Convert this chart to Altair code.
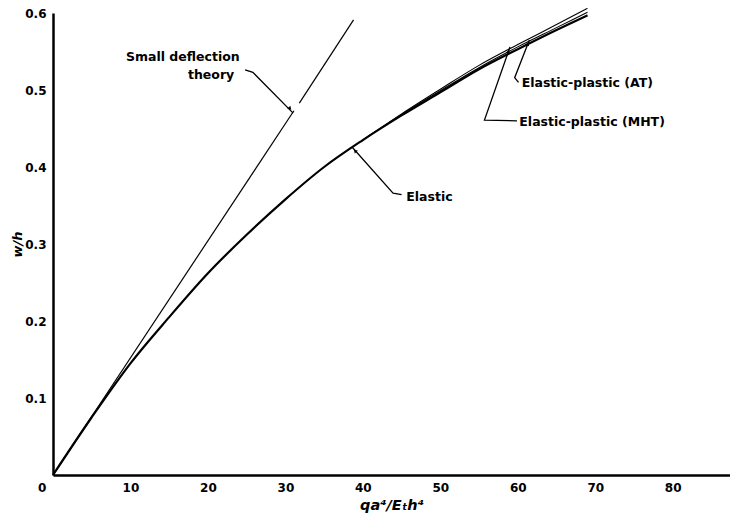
import altair as alt
import pandas as pd

# ---- data ----
q_elastic = [0, 5, 10, 15, 20, 25, 30, 35, 40, 45, 50, 55, 60, 65, 69]
w_elastic = [0, 0.075, 0.145, 0.205, 0.262, 0.312, 0.358, 0.400, 0.435, 0.467, 0.497, 0.527, 0.553, 0.578, 0.597]
q_plastic = [40, 45, 50, 55, 60, 65, 69]
w_mht = [0.435, 0.468, 0.499, 0.529, 0.556, 0.581, 0.601]
w_at = [0.435, 0.469, 0.501, 0.532, 0.559, 0.585, 0.606]

q_small = [0, 31.1, 31.8, 38.8]
w_small = [0, 0.473, 0.483, 0.591]
seg_small = ["a", "a", "b", "b"]

# leader lines of the annotations (data coordinates)
lead_id = ["s", "s", "s", "e", "e", "e", "at", "at", "at", "m", "m", "m"]
lead_q = [24.8, 25.8, 31.0, 38.6, 43.9, 45.0, 61.5, 59.6, 60.1, 59.0, 55.7, 59.9]
lead_w = [0.526, 0.523, 0.470, 0.426, 0.366, 0.364, 0.565, 0.516, 0.510, 0.556, 0.461, 0.460]
lead_o = [0, 1, 2, 0, 1, 2, 0, 1, 2, 0, 1, 2]

# arrow tips of the leaders
tip_q = [30.6, 39.0, 61.3, 58.8]
tip_w = [0.476, 0.421, 0.560, 0.550]
tip_angle = [136, 318, 21, 19]

lab_text = ["Small deflection", "theory", "Elastic", "Elastic-plastic (AT)", "Elastic-plastic (MHT)"]
lab_q = [24.1, 23.4, 45.6, 60.5, 60.2]
lab_w = [0.543, 0.519, 0.361, 0.509, 0.459]
lab_align = ["right", "right", "left", "left", "left"]

x_ticks = [0, 10, 20, 30, 40, 50, 60, 70, 80]
y_ticks = [0, 0.1, 0.2, 0.3, 0.4, 0.5, 0.6]

FONT = "DejaVu Sans"

xs = alt.Scale(domain=[0, 87.4], nice=False, zero=False)
ys = alt.Scale(domain=[0, 0.6], nice=False, zero=False)

xaxis = alt.Axis(values=x_ticks, format="d", ticks=False, grid=False,
                 domainWidth=2.5, domainColor="black", labelPadding=7,
                 labelFont=FONT, labelFontWeight="bold", labelFontSize=12, labelColor="black",
                 labelExpr="datum.value == 0 ? '' : datum.label",
                 title="qa⁴/Eₜh⁴", titleFont=FONT, titleFontStyle="italic",
                 titleFontWeight="bold", titleFontSize=14.5, titleColor="black", titlePadding=5)
yaxis = alt.Axis(values=y_ticks, format=".1f", ticks=False, grid=False,
                 domainWidth=2.5, domainColor="black", labelPadding=7,
                 labelFont=FONT, labelFontWeight="bold", labelFontSize=12, labelColor="black",
                 labelExpr="datum.value == 0 ? '' : datum.label",
                 title="w/h", titleFont=FONT, titleFontStyle="italic",
                 titleFontWeight="bold", titleFontSize=13, titleColor="black",
                 titleX=-36, titleY=231, titleBaseline="middle", titleAlign="center", titleAngle=270)

df_el = pd.DataFrame({"q": q_elastic, "w": w_elastic})
df_pl = pd.DataFrame({"q": q_plastic * 2, "w": w_mht + w_at,
                      "s": ["MHT"] * len(q_plastic) + ["AT"] * len(q_plastic)})
df_sm = pd.DataFrame({"q": q_small, "w": w_small, "seg": seg_small})
df_ld = pd.DataFrame({"q": lead_q, "w": lead_w, "id": lead_id, "o": lead_o})
df_tip = pd.DataFrame({"q": tip_q, "w": tip_w, "a": tip_angle})
df_lb = pd.DataFrame({"q": lab_q, "w": lab_w, "t": lab_text, "a": lab_align})
df_zero = pd.DataFrame({"q": [-1.4], "w": [-0.017], "t": ["0"]})

elastic = alt.Chart(df_el).mark_line(color="black", strokeWidth=2.2, interpolate="monotone").encode(
    x=alt.X("q:Q", scale=xs, axis=xaxis),
    y=alt.Y("w:Q", scale=ys, axis=yaxis),
)
plastic = alt.Chart(df_pl).mark_line(color="black", strokeWidth=1.1, interpolate="monotone").encode(
    x=alt.X("q:Q", scale=xs), y=alt.Y("w:Q", scale=ys), detail="s:N"
)
small = alt.Chart(df_sm).mark_line(color="black", strokeWidth=1.2).encode(
    x=alt.X("q:Q", scale=xs), y=alt.Y("w:Q", scale=ys), detail="seg:N"
)
leaders = alt.Chart(df_ld).mark_line(color="black", strokeWidth=1.3).encode(
    x=alt.X("q:Q", scale=xs), y=alt.Y("w:Q", scale=ys), detail="id:N", order="o:Q"
)
tips = alt.Chart(df_tip).mark_point(shape="triangle-up", filled=True, color="black",
                                    size=18, opacity=1).encode(
    x=alt.X("q:Q", scale=xs), y=alt.Y("w:Q", scale=ys),
    angle=alt.Angle("a:Q", scale=None)
)
lab_r = alt.Chart(df_lb[df_lb.a == "right"]).mark_text(
    align="right", baseline="middle", font=FONT, fontWeight="bold", fontSize=12.5, color="black"
).encode(x=alt.X("q:Q", scale=xs), y=alt.Y("w:Q", scale=ys), text="t:N")
lab_l = alt.Chart(df_lb[df_lb.a == "left"]).mark_text(
    align="left", baseline="middle", font=FONT, fontWeight="bold", fontSize=12.5, color="black"
).encode(x=alt.X("q:Q", scale=xs), y=alt.Y("w:Q", scale=ys), text="t:N")
zero = alt.Chart(df_zero).mark_text(
    align="center", baseline="middle", font=FONT, fontWeight="bold", fontSize=12, color="black"
).encode(x=alt.X("q:Q", scale=xs), y=alt.Y("w:Q", scale=ys), text="t:N")

chart = alt.layer(small, plastic, elastic, leaders, tips, lab_r, lab_l, zero).properties(
    width=677, height=462,
    padding={"left": 45, "top": 5, "right": 0, "bottom": 45},
    autosize=alt.AutoSizeParams(type="none"),
).configure(background="white").configure_view(stroke=None)

chart.save("out.html", embed_options={"renderer": "svg", "actions": False})
